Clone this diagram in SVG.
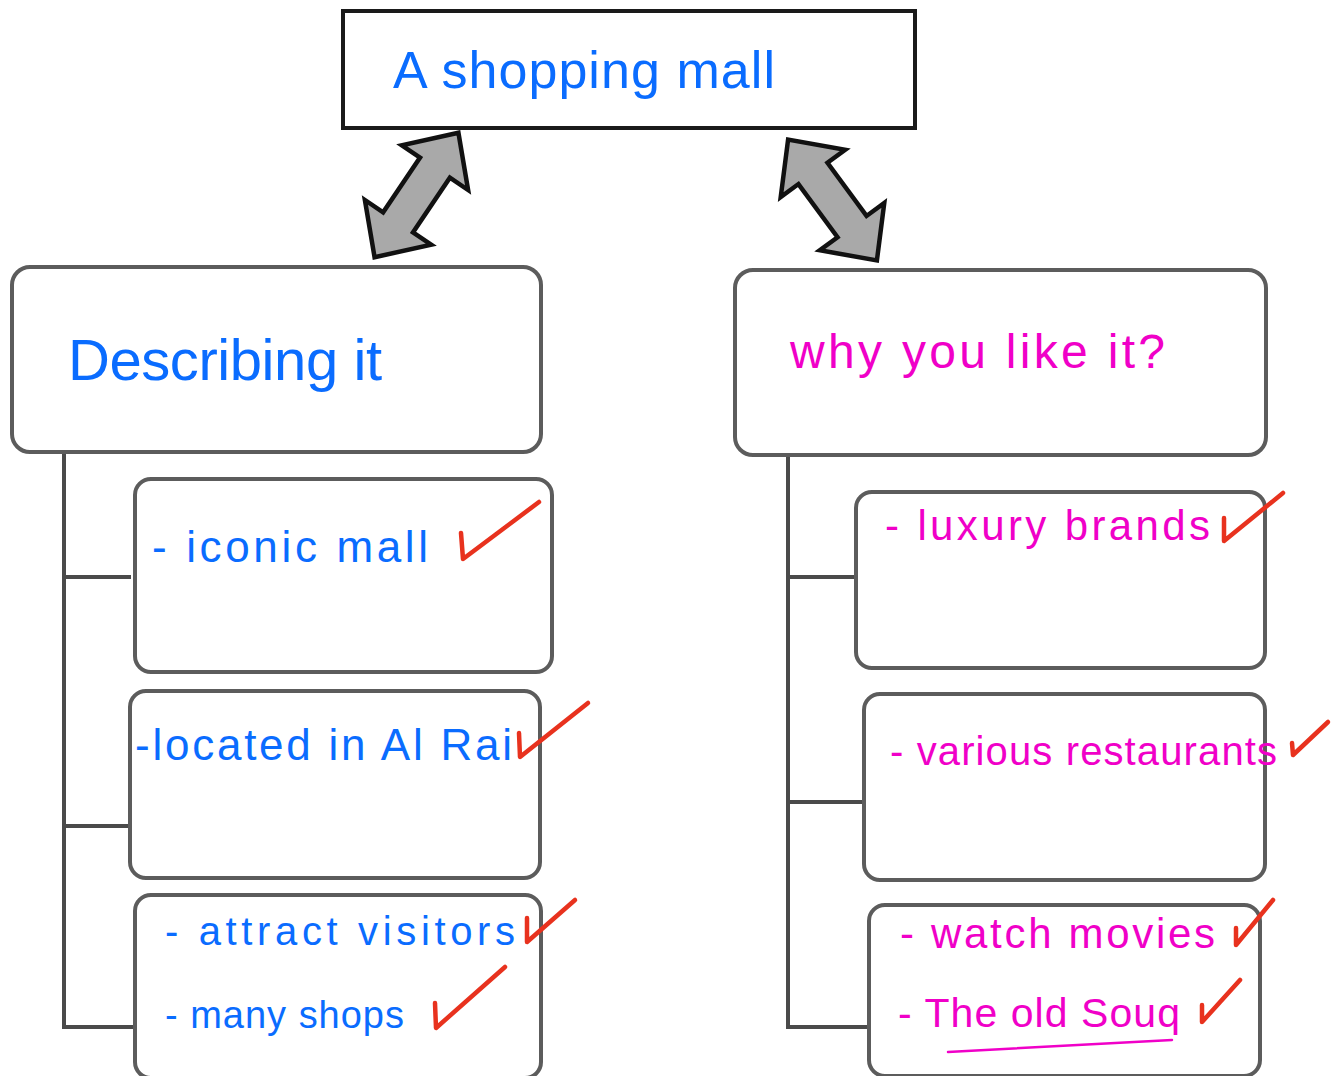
<svg xmlns="http://www.w3.org/2000/svg" width="1340" height="1076" viewBox="0 0 1340 1076">
<style>
.box{fill:#fff;stroke:#5c5c5c;stroke-width:4}
.title{fill:#fff;stroke:#1a1a1a;stroke-width:4}
.arrow{fill:#a9a9a9;stroke:#111;stroke-width:4.5;stroke-linejoin:miter}
.line{fill:none;stroke:#4a4a4a;stroke-width:4}
.blue{fill:#0a6cff;font-family:"Liberation Sans",Arial,sans-serif}
.pink{fill:#f000c8;font-family:"Liberation Sans",Arial,sans-serif}
.check{fill:none;stroke:#e8321e;stroke-width:4.5;stroke-linecap:round;stroke-linejoin:round}
.ul{fill:none;stroke:#f000c8;stroke-width:2.5;stroke-linecap:round}
</style>
<defs>
<polygon id="dblarrow" points="75,0 33,-40 33,-18 -33,-18 -33,-40 -75,0 -33,40 -33,18 33,18 33,40"/>
</defs>
<rect width="1340" height="1076" fill="#fff"/>

<g id="connectors">
<use href="#dblarrow" class="arrow" transform="translate(416.5,195) rotate(-56)"/>
<use href="#dblarrow" class="arrow" transform="translate(832.5,200) rotate(53.7)"/>
<path class="line" d="M64,452 V1027 H135 M64,577 H131 M64,826 H128"/>
<path class="line" d="M788,455 V1027 H869 M788,577 H856 M788,802 H862"/>
</g>

<g id="title">
<rect class="title" x="343" y="11" width="572" height="117"/>
<text class="blue" x="393" y="88" font-size="52" textLength="382" lengthAdjust="spacing">A shopping mall</text>
</g>

<g id="describing">
<rect class="box" x="12" y="267" width="529" height="185" rx="18"/>
<text class="blue" x="68" y="380" font-size="58" textLength="314" lengthAdjust="spacing">Describing it</text>
</g>

<g id="why">
<rect class="box" x="735" y="270" width="531" height="185" rx="18"/>
<text class="pink" x="790" y="368" font-size="48" textLength="375" lengthAdjust="spacing">why you like it?</text>
</g>

<g id="iconic">
<rect class="box" x="135" y="479" width="417" height="193" rx="16"/>
<text class="blue" x="152" y="562" font-size="44" textLength="276" lengthAdjust="spacing">- iconic mall</text>
<path class="check" d="M461,533 L463,559 L539,502"/>
</g>

<g id="located">
<rect class="box" x="130" y="691" width="410" height="187" rx="16"/>
<text class="blue" x="135" y="760" font-size="44" textLength="377" lengthAdjust="spacing">-located in Al Rai</text>
<path class="check" d="M519,733 L520,757 L588,703"/>
</g>

<g id="attract">
<rect class="box" x="135" y="895" width="406" height="183" rx="16"/>
<text class="blue" x="165" y="945" font-size="40" textLength="350" lengthAdjust="spacing">- attract visitors</text>
<path class="check" d="M527,918 L527,942 L575,900"/>
<text class="blue" x="165" y="1028" font-size="38" textLength="239" lengthAdjust="spacing">- many shops</text>
<path class="check" d="M435,1003 L436,1028 L505,967"/>
</g>

<g id="luxury">
<rect class="box" x="856" y="492" width="409" height="176" rx="16"/>
<text class="pink" x="885" y="540" font-size="42" textLength="325" lengthAdjust="spacing">- luxury brands</text>
<path class="check" d="M1224,518 L1224,541 L1283,493"/>
</g>

<g id="various">
<rect class="box" x="864" y="694" width="401" height="186" rx="16"/>
<text class="pink" x="890" y="765" font-size="40" textLength="387" lengthAdjust="spacing">- various restaurants</text>
<path class="check" d="M1292,743 L1293,755 L1328,722"/>
</g>

<g id="watch">
<rect class="box" x="869" y="905" width="391" height="171" rx="16"/>
<text class="pink" x="900" y="948" font-size="42" textLength="315" lengthAdjust="spacing">- watch movies</text>
<path class="check" d="M1236,928 L1236,945 L1273,900"/>
<text class="pink" x="898" y="1027" font-size="41" textLength="282" lengthAdjust="spacing">- The old Souq</text>
<path class="check" d="M1202,1005 L1202,1022 L1240,980"/>
<path class="ul" d="M948,1052 Q1060,1046 1172,1040"/>
</g>
</svg>
